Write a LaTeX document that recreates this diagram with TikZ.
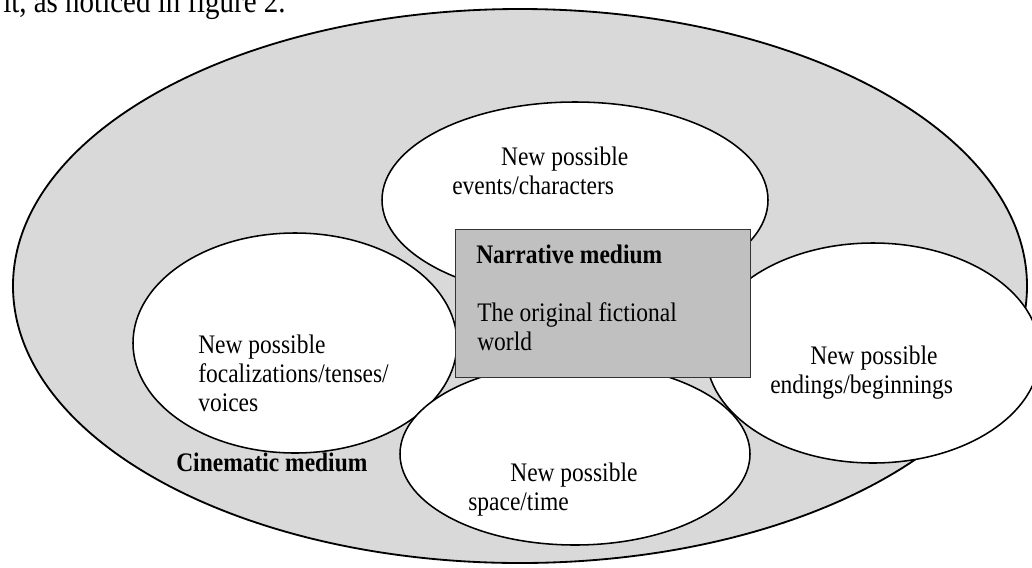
\documentclass[tikz,border=0pt]{standalone}
\usepackage{fontspec}
\setmainfont{Liberation Serif}
\usepackage{graphicx}
\usetikzlibrary{shapes.geometric}
\definecolor{outerGray}{HTML}{D9D9D9}
\definecolor{boxGray}{HTML}{C0C0C0}
\newcommand{\pxu}{0.025cm}
\newcommand{\tall}[1]{\scalebox{1}[1.14]{#1}}

\begin{document}
\begin{tikzpicture}[
  x=\pxu, y=-\pxu,
  oval/.style={
    ellipse,
    draw=black,
    fill=white,
    line width=1.1pt,
    inner sep=0pt
  },
  box/.style={
    rectangle,
    draw=black!80,
    fill=boxGray,
    line width=0.9pt,
    inner sep=0pt,
    anchor=north west
  },
  txt/.style={
    anchor=base west,
    align=left,
    inner sep=0pt,
    font=\fontsize{16.7}{20.6}\selectfont
  }
]
  \useasboundingbox (0,0) rectangle (1032,567);
  \clip (0,0) rectangle (1032,567);

  % Text running in from the page above
  \node[txt, font=\fontsize{20.6}{25}\selectfont] (caption) at (3,12) {\tall{it, as noticed in figure 2.}};

  % Define ellipses
  \node[oval, fill=outerGray, line width=1.3pt, minimum width={1014*\pxu}, minimum height={554*\pxu}] (cinema) at (520,286) {};
  \node[oval, minimum width={386*\pxu}, minimum height={196*\pxu}] (events) at (575,200) {};
  \node[oval, minimum width={324*\pxu}, minimum height={220*\pxu}] (focal) at (295,343) {};
  \node[oval, minimum width={334*\pxu}, minimum height={220*\pxu}] (endings) at (873,353) {};
  \node[oval, minimum width={350*\pxu}, minimum height={182*\pxu}] (spacetime) at (575,454) {};
  \node[box, minimum width={295*\pxu}, minimum height={148*\pxu}] (narrative) at (455,229) {};

  % Labels (base = last line)
  \node[txt] (narrTitle) at (476,263) {\tall{\textbf{Narrative medium}}};
  \node[txt] (narrText) at (477,350) {\tall{The original fictional}\\ \tall{world}};
  \node[txt] (eventsText) at (452,194) {\hspace*{1.22cm}\tall{New possible}\\ \tall{events/characters}};
  \node[txt] (focalText) at (198,411) {\tall{New possible}\\ \tall{focalizations/tenses/}\\ \tall{voices}};
  \node[txt] (endingsText) at (770,393) {\hspace*{1cm}\tall{New possible}\\ \tall{endings/beginnings}};
  \node[txt] (spaceText) at (468,510) {\hspace*{1.05cm}\tall{New possible}\\ \tall{space/time}};
  \node[txt] (cinemaText) at (176,471) {\tall{\textbf{Cinematic medium}}};
\end{tikzpicture}
\end{document}
